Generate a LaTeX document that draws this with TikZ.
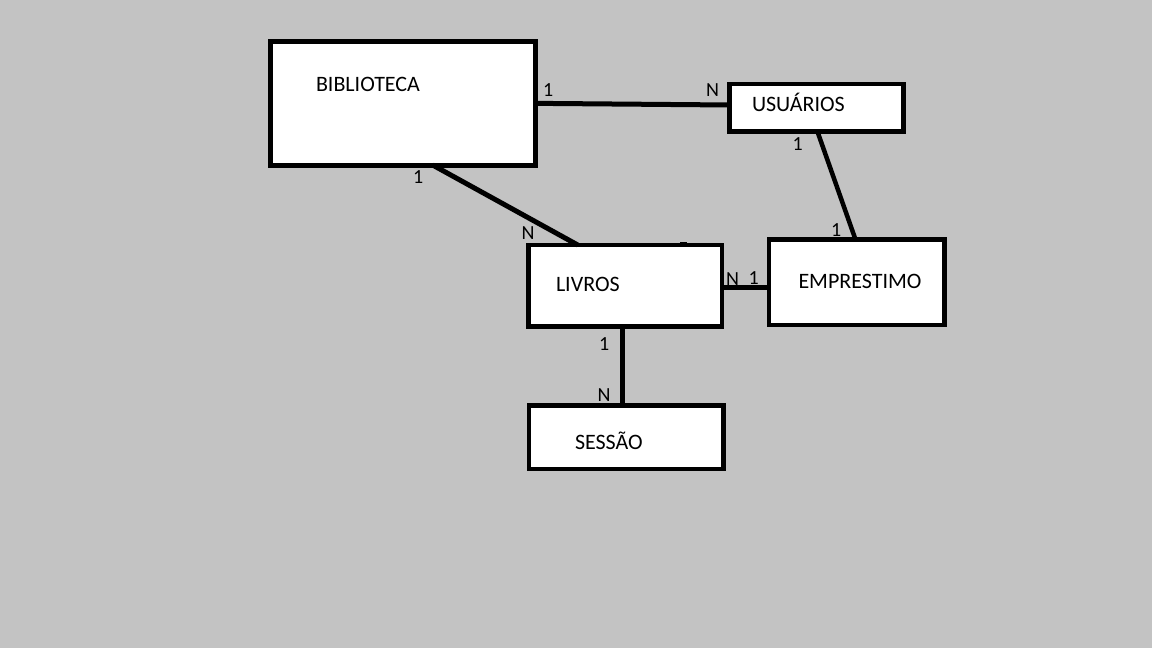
\documentclass[tikz,border=0pt]{standalone}
\usepackage{fontspec}
\setmainfont{Carlito}
\begin{document}
\begin{tikzpicture}[x=1pt,y=-1pt,
  entbox/.style={draw=black,fill=white,line width=5pt,rectangle,outer sep=0pt,inner sep=0pt},
  conn/.style={draw=black,line width=5pt},
  enttext/.style={anchor=base west,inner sep=0pt,outer sep=0pt,font=\fontsize{22}{26}\selectfont},
  cardtext/.style={anchor=base west,inner sep=0pt,outer sep=0pt,font=\fontsize{20}{24}\selectfont}]
\definecolor{bgc}{RGB}{195,195,195}
\fill[bgc] (0,0) rectangle (1152,648);
\useasboundingbox (0,0) rectangle (1152,648);
% boxes
\node[entbox,minimum width=265.2pt,minimum height=123.3pt] (bib) at (403.1,103.35) {};
\node[entbox,minimum width=173.6pt,minimum height=47.9pt,line width=4.5pt] (usr) at (816.5,107.75) {};
\node[entbox,minimum width=193.9pt,minimum height=81.7pt,line width=4.5pt] (liv) at (625.25,285.85) {};
\node[entbox,minimum width=175.5pt,minimum height=85.3pt,line width=4.5pt] (emp) at (856.55,282.35) {};
\node[entbox,minimum width=194.5pt,minimum height=63.3pt,line width=4.5pt] (ses) at (626.05,437.15) {};
% connectors
\draw[conn] (bib.east) -- ([yshift=2.75pt]usr.west);
\draw[conn] ([xshift=29.5pt]bib.south) -- ([xshift=-47.5pt]liv.north);
\draw[conn,line width=4.5pt] ([xshift=1pt]usr.south) -- ([xshift=-1pt]emp.north);
\draw[conn] ([yshift=-1.65pt]liv.east) -- ([yshift=-1.65pt]liv.east -| emp.west);
\draw[conn] ([xshift=-2.75pt]liv.south) -- ([xshift=-2.75pt]liv.south |- ses.north);
\draw[line width=2.5pt] ([xshift=55pt,yshift=2pt]liv.north) -- ([xshift=62pt,yshift=2pt]liv.north);
% entity names
\node[enttext] (tbib) at (316,91.3) {BIBLIOTECA};
\node[enttext] (tusr) at (752,111.7) {USUÁRIOS};
\node[enttext] (tliv) at (556,291) {LIVROS};
\node[enttext] (temp) at (798.5,288.3) {EMPRESTIMO};
\node[enttext] (tses) at (575,449.3) {SESSÃO};
% cardinalities
\node[cardtext] (c1) at (543,96) {1};
\node[cardtext] (c2) at (706,96.7) {N};
\node[cardtext] (c3) at (792.5,150) {1};
\node[cardtext] (c4) at (413,183.3) {1};
\node[cardtext] (c5) at (521.5,239) {N};
\node[cardtext] (c6) at (831,236) {1};
\node[cardtext] (c7) at (726,285) {N};
\node[cardtext] (c8) at (748.7,284) {1};
\node[cardtext] (c9) at (599,350) {1};
\node[cardtext] (c10) at (597.5,401) {N};
\end{tikzpicture}
\end{document}
